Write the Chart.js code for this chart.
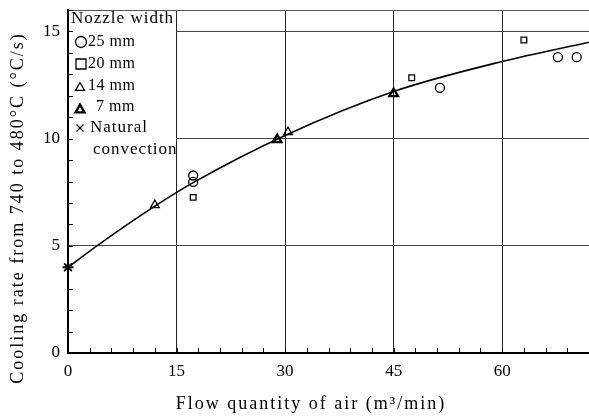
<!DOCTYPE html>
<html>
<head>
<meta charset="utf-8">
<script src="https://cdn.jsdelivr.net/npm/chart.js@4/dist/chart.umd.min.js"></script>
<style>
  html, body { margin: 0; padding: 0; background: #fff; }
  #wrap { width: 589px; height: 418px; position: relative; }
</style>
</head>
<body>
<div id="wrap"><canvas id="coolChart"></canvas></div>
<script>
// flow of air (m3/min) vs cooling rate (C/s), per nozzle width
const xTickValues = [0, 15, 30, 45, 60];
const yTickValues = [0, 5, 10, 15];

const nozzle25X = [17.3, 17.3, 51.4, 67.7, 70.3];
const nozzle25Y = [8.28, 7.98, 12.37, 13.8, 13.8];
const nozzle20X = [17.3, 47.5, 63.0];
const nozzle20Y = [7.26, 12.84, 14.6];
const nozzle14X = [12.0, 30.4];
const nozzle14Y = [6.9, 10.3];
const nozzle7X = [28.9, 45.0];
const nozzle7Y = [9.95, 12.1];
const naturalX = [0];
const naturalY = [4.0];

// fitted curve
const curveX = [0, 4, 12, 17.3, 30, 45, 60, 72];
const curveY = [4.0, 5.0, 6.85, 7.95, 10.15, 12.2, 13.6, 14.5];

const legendLines = ['Nozzle width', '25 mm', '20 mm', '14 mm', '7 mm', 'Natural', 'convection'];

const toPts = (xs, ys) => xs.map((x, i) => ({ x: x, y: ys[i] }));

Chart.defaults.font.family = "'Liberation Serif', 'DejaVu Serif', serif";
Chart.defaults.color = '#000';

function drawMarker(ctx, kind, cx, cy, r) {
  ctx.save();
  ctx.strokeStyle = '#000';
  ctx.lineWidth = 1.3;
  ctx.beginPath();
  if (kind === 'circle') {
    ctx.arc(cx, cy, r, 0, Math.PI * 2);
  } else if (kind === 'rect') {
    ctx.rect(cx - r, cy - r, r * 2, r * 2);
  } else if (kind === 'triangle' || kind === 'triangle7') {
    ctx.moveTo(cx, cy - r);
    ctx.lineTo(cx + r, cy + r * 0.75);
    ctx.lineTo(cx - r, cy + r * 0.75);
    ctx.closePath();
    if (kind === 'triangle7') ctx.lineWidth = 2.3;
  } else if (kind === 'cross') {
    ctx.moveTo(cx - r, cy - r); ctx.lineTo(cx + r, cy + r);
    ctx.moveTo(cx + r, cy - r); ctx.lineTo(cx - r, cy + r);
  }
  ctx.stroke();
  ctx.restore();
}

const framePlugin = {
  id: 'frame',
  beforeDatasetsDraw(chart) {
    const ctx = chart.ctx;
    const xs = chart.scales.x, ys = chart.scales.y;
    const area = chart.chartArea;

    // legend box hides the grid in the upper left
    const bx0 = xs.getPixelForValue(0) + 1;
    const bx1 = xs.getPixelForValue(15) - 0.6;
    ctx.save();
    ctx.fillStyle = '#fff';
    ctx.fillRect(bx0, area.top, bx1 - bx0, ys.getPixelForValue(8.7) - area.top);
    ctx.restore();

    // top frame line
    ctx.save();
    ctx.strokeStyle = '#555';
    ctx.lineWidth = 1.2;
    ctx.beginPath();
    ctx.moveTo(area.left, area.top + 0.5);
    ctx.lineTo(area.right, area.top + 0.5);
    ctx.stroke();

    // inward minor ticks
    ctx.strokeStyle = '#000';
    ctx.lineWidth = 1;
    ctx.beginPath();
    for (let v = 3; v <= 72; v += 3) {
      const px = Math.round(xs.getPixelForValue(v)) + 0.5;
      ctx.moveTo(px, area.bottom);
      ctx.lineTo(px, area.bottom - 5);
    }
    for (let v = 1; v <= 16; v++) {
      const py = Math.round(ys.getPixelForValue(v)) + 0.5;
      ctx.moveTo(area.left, py);
      ctx.lineTo(area.left + 5, py);
    }
    ctx.stroke();
    ctx.restore();

    // legend
    ctx.save();
    ctx.fillStyle = '#000';
    ctx.textBaseline = 'middle';
    ctx.font = "17px 'Liberation Serif'";
    ctx.letterSpacing = '1px';
    ctx.fillText(legendLines[0], 71, 19);
    ctx.font = "16px 'Liberation Serif'";
    ctx.letterSpacing = '0.5px';
    ctx.fillText(legendLines[1], 88, 42);
    ctx.fillText(legendLines[2], 88, 64);
    ctx.fillText(legendLines[3], 88, 86);
    ctx.fillText(legendLines[4], 96, 107);
    ctx.font = "17px 'Liberation Serif'";
    ctx.letterSpacing = '1px';
    ctx.fillText(legendLines[5], 90, 128);
    ctx.fillText(legendLines[6], 93, 150);
    ctx.restore();
    drawMarker(ctx, 'circle', 81, 42, 5.5);
    drawMarker(ctx, 'rect', 81, 64, 5);
    drawMarker(ctx, 'triangle', 80, 87, 4.5);
    drawMarker(ctx, 'triangle7', 80, 109, 4.5);
    drawMarker(ctx, 'cross', 80, 128, 3.5);
  },
  afterDraw(chart) {
    const ctx = chart.ctx;
    ctx.save();
    ctx.fillStyle = '#000';
    ctx.font = "18px 'Liberation Serif'";
    ctx.letterSpacing = '2px';
    ctx.textAlign = 'center';
    ctx.textBaseline = 'middle';
    ctx.fillText('Flow quantity of air (m\u00b3/min)', 311, 404);
    ctx.translate(18, 208);
    ctx.rotate(-Math.PI / 2);
    ctx.fillText('Cooling rate from 740 to 480\u00b0C (\u00b0C/s)', 0, 0);
    ctx.restore();
  }
};

const markerSet = (label, xs, ys, style, extra) => Object.assign({
  label: label,
  type: 'scatter',
  data: toPts(xs, ys),
  pointStyle: style,
  pointRadius: 4.5,
  pointBorderColor: '#000',
  pointBackgroundColor: 'rgba(0,0,0,0)',
  pointBorderWidth: 1.3,
  showLine: false,
  clip: false
}, extra || {});

new Chart(document.getElementById('coolChart'), {
  type: 'scatter',
  data: {
    datasets: [
      {
        label: 'fit',
        type: 'line',
        data: toPts(curveX, curveY),
        borderColor: '#000',
        borderWidth: 1.6,
        pointRadius: 0,
        fill: false,
        cubicInterpolationMode: 'monotone'
      },
      markerSet('25 mm', nozzle25X, nozzle25Y, 'circle'),
      markerSet('20 mm', nozzle20X, nozzle20Y, 'rect', { pointRadius: 4 }),
      markerSet('14 mm', nozzle14X, nozzle14Y, 'triangle', { pointRadius: 5 }),
      markerSet('7 mm', nozzle7X, nozzle7Y, 'triangle', { pointRadius: 5, pointBorderWidth: 2.3 }),
      markerSet('Natural convection', naturalX, naturalY, 'star', { pointRadius: 5.5, pointBorderWidth: 1.8 })
    ]
  },
  options: {
    responsive: true,
    maintainAspectRatio: false,
    animation: false,
    layout: { autoPadding: false, padding: { top: 10, right: 0, left: 0, bottom: 0 } },
    plugins: {
      legend: { display: false },
      tooltip: { enabled: false }
    },
    elements: { point: { hitRadius: 0 } },
    scales: {
      x: {
        type: 'linear',
        min: 0,
        max: 72,
        afterBuildTicks: (s) => { s.ticks = xTickValues.map(v => ({ value: v })); },
        afterFit: (s) => { s.height = 65; s.paddingLeft = 0; s.paddingRight = 0; },
        ticks: { font: { size: 17 }, padding: 8, maxRotation: 0 },
        grid: {
          drawTicks: false,
          color: (c) => c.tick && c.tick.value === 0 ? 'rgba(0,0,0,0)' : '#222',
          lineWidth: 1
        },
        border: { display: true, color: '#000', width: 2 }
      },
      y: {
        type: 'linear',
        min: 0,
        max: 16,
        afterBuildTicks: (s) => { s.ticks = yTickValues.map(v => ({ value: v })); },
        afterFit: (s) => { s.width = 68; s.paddingTop = 0; s.paddingBottom = 0; },
        ticks: { font: { size: 17 }, padding: 8 },
        grid: {
          drawTicks: false,
          color: (c) => c.tick && c.tick.value === 0 ? 'rgba(0,0,0,0)' : '#444',
          lineWidth: 1
        },
        border: { display: true, color: '#000', width: 2 }
      }
    }
  },
  plugins: [framePlugin]
});
</script>
</body>
</html>
